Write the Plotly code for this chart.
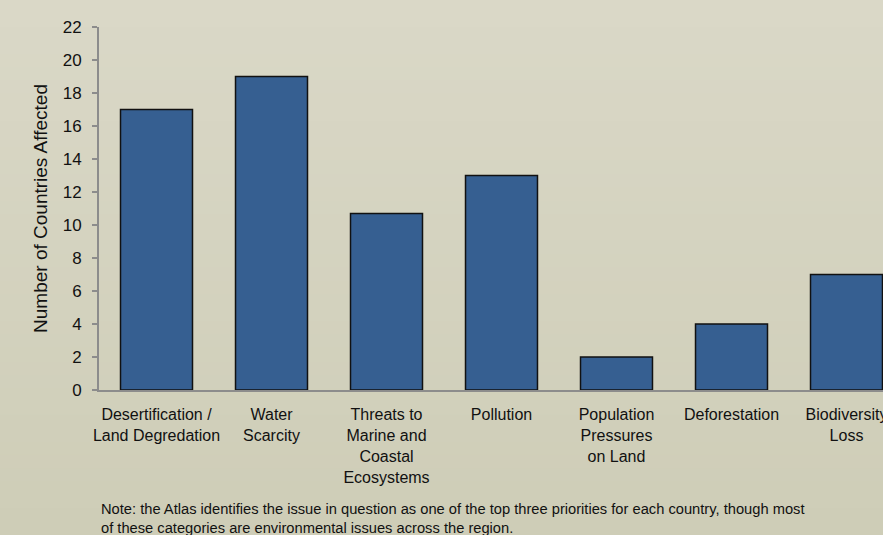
import plotly.graph_objects as go

categories = [
    "Desertification /<br>Land Degredation",
    "Water<br>Scarcity",
    "Threats to<br>Marine and<br>Coastal<br>Ecosystems",
    "Pollution",
    "Population<br>Pressures<br>on Land",
    "Deforestation",
    "Biodiversity<br>Loss",
]
countries_affected = [17, 19, 10.7, 13, 2, 4, 7]
y_tick_values = list(range(0, 23, 2))

y_title = "Number of Countries Affected"
note_text = ("Note: the Atlas identifies the issue in question as one of the top three priorities for each country, though most<br>"
             "of these categories are environmental issues across the region.")

FONT = "Liberation Sans, Arial, sans-serif"
W, H = 883, 535
ML, MT, MB, MR = 99, 27, 145, 0

fig = go.Figure()
fig.add_trace(go.Bar(
    x=list(range(len(categories))),
    y=countries_affected,
    marker=dict(color="#365f91", line=dict(color="#111111", width=1.5)),
    hoverinfo="y",
))

# subtle vertical background gradient (light top -> slightly darker bottom)
top_rgb = (218, 216, 199)
bot_rgb = (206, 205, 183)
n_bands = 40
plot_h = H - MT - MB
plot_w = W - ML - MR
shapes = []
for i in range(n_bands):
    t = i / (n_bands - 1)
    c = tuple(round(top_rgb[k] + (bot_rgb[k] - top_rgb[k]) * t) for k in range(3))
    py0 = i * H / n_bands
    py1 = (i + 1) * H / n_bands + 1
    y0 = (H - MB - py1) / plot_h
    y1 = (H - MB - py0) / plot_h
    shapes.append(dict(type="rect", xref="paper", yref="paper",
                       x0=-ML / plot_w - 0.01, x1=1.01, y0=y0, y1=y1,
                       fillcolor="rgb(%d,%d,%d)" % c, line=dict(width=0), layer="below"))

fig.update_layout(
    width=W, height=H,
    margin=dict(l=ML, r=MR, t=MT, b=MB, autoexpand=False),
    paper_bgcolor="rgb(212,210,191)",
    plot_bgcolor="rgba(0,0,0,0)",
    bargap=0.374,
    showlegend=False,
    shapes=shapes,
    font=dict(family=FONT, size=16, color="#111111"),
    xaxis=dict(
        tickmode="array",
        tickvals=list(range(len(categories))),
        ticktext=categories,
        range=[-0.5, -0.5 + plot_w / 115.0],
        showline=True, linecolor="#8c8c8c", linewidth=2,
        showgrid=False, zeroline=False, ticks="",
        tickfont=dict(family=FONT, size=16, color="#111111"),
        tickangle=0,
        ticklabeloverflow="allow",
        ticklabelstandoff=9,
    ),
    yaxis=dict(
        range=[0, 22],
        tickvals=y_tick_values,
        showline=True, linecolor="#8c8c8c", linewidth=2,
        showgrid=False, zeroline=False,
        ticks="outside", ticklen=5, tickcolor="#8c8c8c", tickwidth=2,
        tickfont=dict(family=FONT, size=17, color="#111111"),
        ticklabelstandoff=7,
        title=dict(text=y_title, font=dict(family=FONT, size=19, color="#111111"), standoff=10),
    ),
    annotations=[dict(
        text=note_text, xref="paper", yref="paper",
        x=0, y=(H - MB - 518.5) / plot_h, xanchor="left", yanchor="middle",
        align="left", showarrow=False,
        font=dict(family=FONT, size=14.7, color="#111111"),
    )],
)

fig.write_html("out.html")
